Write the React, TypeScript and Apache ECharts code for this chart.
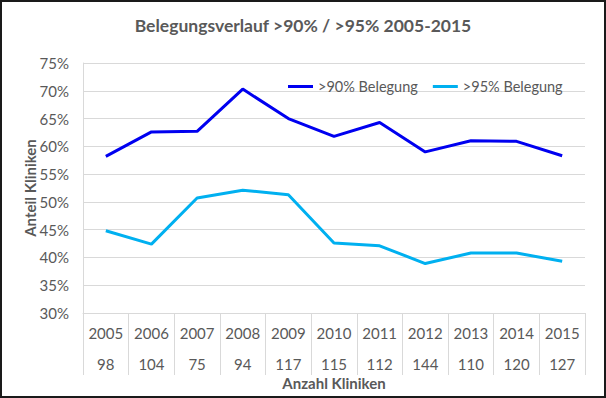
import React, { useEffect, useRef } from "react";
import * as echarts from "echarts";

const years = ["2005", "2006", "2007", "2008", "2009", "2010", "2011", "2012", "2013", "2014", "2015"];
const counts = [98, 104, 75, 94, 117, 115, 112, 144, 110, 120, 127];
const over90 = [58.2, 62.6, 62.7, 70.3, 65.0, 61.8, 64.3, 59.0, 61.0, 60.9, 58.3];
const over95 = [44.8, 42.4, 50.7, 52.1, 51.3, 42.6, 42.1, 38.9, 40.8, 40.8, 39.3];
const xAxisTitle = "Anzahl Kliniken";
const yAxisTitle = "Anteil Kliniken";

const FONT = "Lato, 'Open Sans', sans-serif";
const TXT = "#595959";

export default function App() {
  const ref = useRef<HTMLDivElement>(null);
  useEffect(() => {
    if (!ref.current) return;
    const chart = echarts.init(ref.current, undefined, { renderer: "svg" });
    chart.setOption({
      animation: false,
      backgroundColor: "#fff",
      textStyle: { fontFamily: FONT, color: TXT },
      title: {
        text: "Belegungsverlauf >90% / >95% 2005-2015",
        left: "center",
        top: 11,
        textStyle: { fontFamily: FONT, fontSize: 17.5, fontWeight: "bold", color: TXT },
      },
      legend: {
        left: 283,
        top: 74,
        padding: 5,
        icon: "rect",
        itemWidth: 25,
        itemHeight: 3,
        itemGap: 15,
        textStyle: { fontFamily: FONT, fontSize: 14.5, color: TXT },
        data: [">90% Belegung", ">95% Belegung"],
      },
      graphic: [
        {
          type: "text",
          x: 334,
          y: 383,
          style: {
            text: xAxisTitle,
            fontFamily: FONT,
            fontSize: 15,
            fontWeight: "bold",
            fill: TXT,
            align: "center",
            verticalAlign: "middle",
          },
        },
        {
          type: "text",
          x: 30,
          y: 188,
          rotation: Math.PI / 2,
          style: {
            text: yAxisTitle,
            fontFamily: FONT,
            fontSize: 15,
            fontWeight: "bold",
            fill: TXT,
            align: "center",
            verticalAlign: "middle",
          },
        },
      ],
      grid: { left: 83, right: 21, top: 63, bottom: 85, outerBoundsMode: "none", containLabel: false },
      xAxis: {
        type: "category",
        data: years,
        boundaryGap: true,
        axisLine: { show: true, lineStyle: { color: "#d9d9d9", width: 1 } },
        axisTick: { show: true, interval: 0, length: 62, lineStyle: { color: "#d9d9d9" } },
        axisLabel: {
          interval: 0,
          margin: 4,
          formatter: (v: string, i: number) => `{y|${v}}\n{c|${counts[i]}}`,
          rich: {
            y: { fontFamily: FONT, fontSize: 15, color: TXT, lineHeight: 31 },
            c: { fontFamily: FONT, fontSize: 15, color: TXT, lineHeight: 31 },
          },
        },
      },
      yAxis: {
        type: "value",
        min: 30,
        max: 75,
        interval: 5,
        axisLine: { show: true, lineStyle: { color: "#d9d9d9" } },
        axisTick: { show: false },
        splitLine: { show: true, lineStyle: { color: "#d9d9d9", width: 1 } },
        axisLabel: {
          formatter: (v: number) => `${v}%`,
          margin: 14,
          fontFamily: FONT,
          fontSize: 15,
          color: TXT,
        },
      },
      series: [
        {
          name: ">90% Belegung",
          type: "line",
          data: over90,
          symbol: "none",
          lineStyle: { color: "#0000f0", width: 3 },
          itemStyle: { color: "#0000f0" },
        },
        {
          name: ">95% Belegung",
          type: "line",
          data: over95,
          symbol: "none",
          lineStyle: { color: "#00b0f0", width: 3 },
          itemStyle: { color: "#00b0f0" },
        },
      ],
    });
    return () => chart.dispose();
  }, []);
  return (
    <div style={{ position: "absolute", left: 0, top: 0, width: 606, height: 398, background: "#fff" }}>
      <div ref={ref} style={{ position: "absolute", left: 0, top: 0, width: 606, height: 398 }} />
      <div
        style={{
          position: "absolute",
          left: 0,
          top: 0,
          width: 606,
          height: 398,
          boxSizing: "border-box",
          border: "2px solid #1a1a1a",
          pointerEvents: "none",
        }}
      />
    </div>
  );
}
